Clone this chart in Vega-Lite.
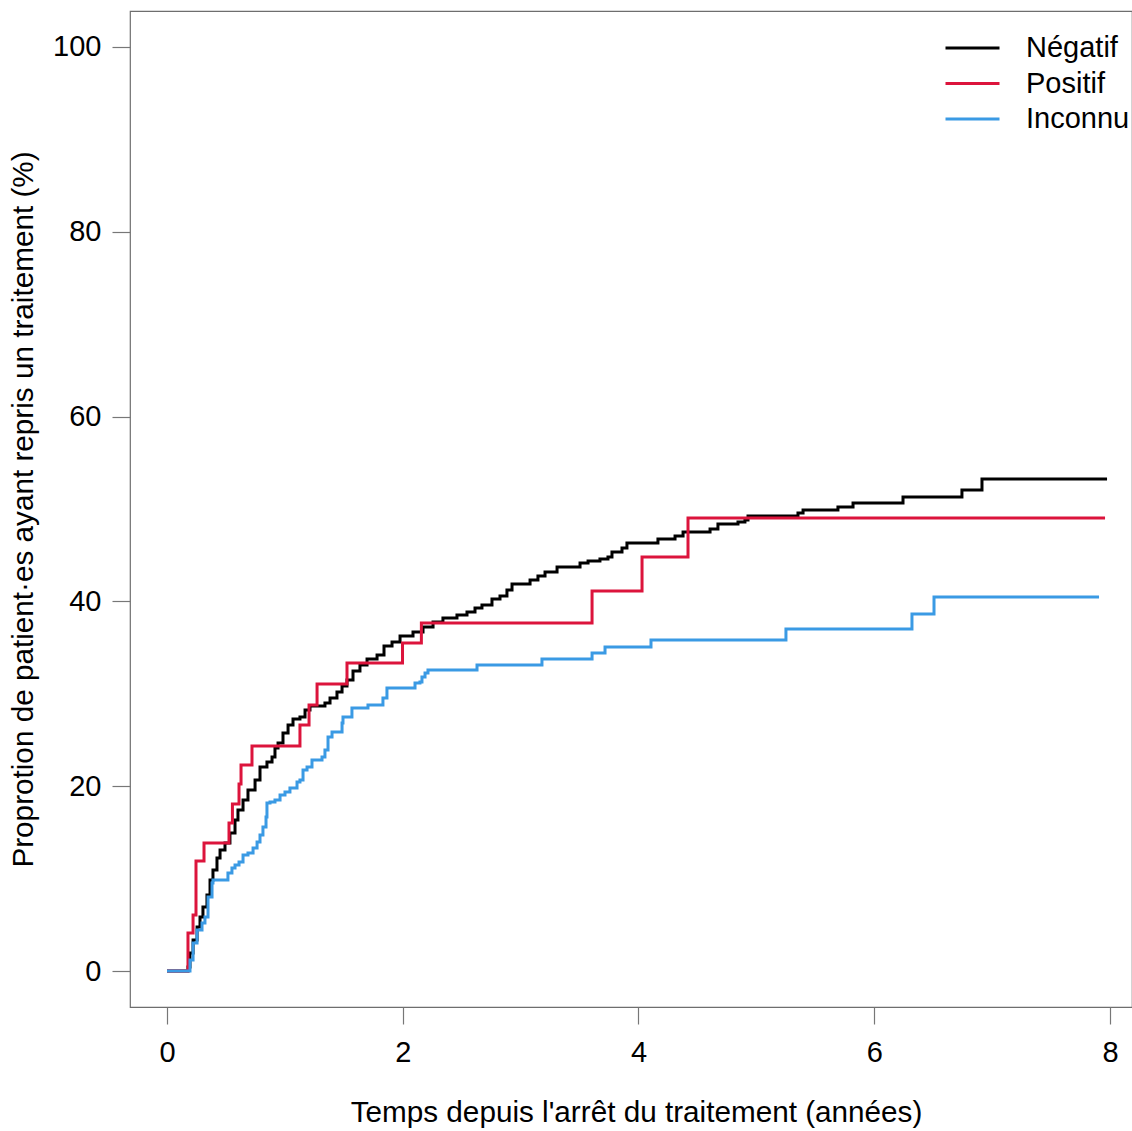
{
  "$schema": "https://vega.github.io/schema/vega-lite/v6.json",
  "autosize": "none",
  "padding": {"left": 130, "top": 11, "right": 0, "bottom": 124},
  "width": 1002,
  "height": 996,
  "background": "white",
  "config": {
    "font": "Liberation Sans",
    "view": {"stroke": "#6e6e6e", "strokeWidth": 1.2},
    "axis": {"grid": false, "domain": false, "tickColor": "#777777", "tickWidth": 1.2, "labelColor": "black", "titleColor": "black", "labelFont": "Liberation Sans", "titleFont": "Liberation Sans", "labelFontSize": 29, "titleFontSize": 29.7, "titleFontWeight": "normal"}
  },
  "data": {"values": [
    {"t": 0, "p": 0, "g": "Négatif"},
    {"t": 0.178, "p": 0.43, "g": "Négatif"},
    {"t": 0.195, "p": 1.95, "g": "Négatif"},
    {"t": 0.221, "p": 3.35, "g": "Négatif"},
    {"t": 0.255, "p": 4.76, "g": "Négatif"},
    {"t": 0.280, "p": 5.84, "g": "Négatif"},
    {"t": 0.305, "p": 6.93, "g": "Négatif"},
    {"t": 0.339, "p": 8.23, "g": "Négatif"},
    {"t": 0.365, "p": 9.85, "g": "Négatif"},
    {"t": 0.390, "p": 10.93, "g": "Négatif"},
    {"t": 0.424, "p": 12.23, "g": "Négatif"},
    {"t": 0.450, "p": 13.10, "g": "Négatif"},
    {"t": 0.492, "p": 13.85, "g": "Négatif"},
    {"t": 0.534, "p": 14.94, "g": "Négatif"},
    {"t": 0.577, "p": 16.34, "g": "Négatif"},
    {"t": 0.602, "p": 17.42, "g": "Négatif"},
    {"t": 0.645, "p": 18.51, "g": "Négatif"},
    {"t": 0.687, "p": 19.59, "g": "Négatif"},
    {"t": 0.747, "p": 20.67, "g": "Négatif"},
    {"t": 0.789, "p": 22.08, "g": "Négatif"},
    {"t": 0.848, "p": 22.62, "g": "Négatif"},
    {"t": 0.891, "p": 23.16, "g": "Négatif"},
    {"t": 0.916, "p": 24.13, "g": "Négatif"},
    {"t": 0.942, "p": 24.68, "g": "Négatif"},
    {"t": 0.984, "p": 25.76, "g": "Négatif"},
    {"t": 1.027, "p": 26.62, "g": "Négatif"},
    {"t": 1.069, "p": 27.27, "g": "Négatif"},
    {"t": 1.128, "p": 27.49, "g": "Négatif"},
    {"t": 1.171, "p": 28.25, "g": "Négatif"},
    {"t": 1.213, "p": 28.68, "g": "Négatif"},
    {"t": 1.340, "p": 29.00, "g": "Négatif"},
    {"t": 1.383, "p": 29.55, "g": "Négatif"},
    {"t": 1.442, "p": 30.19, "g": "Négatif"},
    {"t": 1.485, "p": 30.84, "g": "Négatif"},
    {"t": 1.527, "p": 31.49, "g": "Négatif"},
    {"t": 1.578, "p": 32.47, "g": "Négatif"},
    {"t": 1.637, "p": 33.12, "g": "Négatif"},
    {"t": 1.697, "p": 33.77, "g": "Négatif"},
    {"t": 1.782, "p": 34.20, "g": "Négatif"},
    {"t": 1.841, "p": 35.17, "g": "Négatif"},
    {"t": 1.909, "p": 35.61, "g": "Négatif"},
    {"t": 1.977, "p": 36.26, "g": "Négatif"},
    {"t": 2.087, "p": 36.69, "g": "Négatif"},
    {"t": 2.172, "p": 37.23, "g": "Négatif"},
    {"t": 2.257, "p": 37.77, "g": "Négatif"},
    {"t": 2.341, "p": 38.20, "g": "Négatif"},
    {"t": 2.460, "p": 38.53, "g": "Négatif"},
    {"t": 2.545, "p": 38.85, "g": "Négatif"},
    {"t": 2.613, "p": 39.29, "g": "Négatif"},
    {"t": 2.672, "p": 39.61, "g": "Négatif"},
    {"t": 2.757, "p": 40.26, "g": "Négatif"},
    {"t": 2.825, "p": 40.58, "g": "Négatif"},
    {"t": 2.884, "p": 41.23, "g": "Négatif"},
    {"t": 2.927, "p": 41.88, "g": "Négatif"},
    {"t": 3.080, "p": 42.32, "g": "Négatif"},
    {"t": 3.147, "p": 42.75, "g": "Négatif"},
    {"t": 3.207, "p": 43.18, "g": "Négatif"},
    {"t": 3.309, "p": 43.72, "g": "Négatif"},
    {"t": 3.504, "p": 44.16, "g": "Négatif"},
    {"t": 3.572, "p": 44.37, "g": "Négatif"},
    {"t": 3.673, "p": 44.59, "g": "Négatif"},
    {"t": 3.741, "p": 44.81, "g": "Négatif"},
    {"t": 3.775, "p": 45.35, "g": "Négatif"},
    {"t": 3.860, "p": 45.78, "g": "Négatif"},
    {"t": 3.902, "p": 46.32, "g": "Négatif"},
    {"t": 4.165, "p": 46.75, "g": "Négatif"},
    {"t": 4.310, "p": 47.08, "g": "Négatif"},
    {"t": 4.378, "p": 47.51, "g": "Négatif"},
    {"t": 4.607, "p": 47.84, "g": "Négatif"},
    {"t": 4.674, "p": 48.38, "g": "Négatif"},
    {"t": 4.844, "p": 48.59, "g": "Négatif"},
    {"t": 4.903, "p": 48.81, "g": "Négatif"},
    {"t": 4.929, "p": 49.24, "g": "Négatif"},
    {"t": 5.353, "p": 49.57, "g": "Négatif"},
    {"t": 5.396, "p": 49.89, "g": "Négatif"},
    {"t": 5.692, "p": 50.22, "g": "Négatif"},
    {"t": 5.820, "p": 50.65, "g": "Négatif"},
    {"t": 6.244, "p": 51.30, "g": "Négatif"},
    {"t": 6.744, "p": 52.06, "g": "Négatif"},
    {"t": 6.914, "p": 53.25, "g": "Négatif"},
    {"t": 7.975, "p": 53.25, "g": "Négatif"},
    {"t": 0, "p": 0, "g": "Positif"},
    {"t": 0.178, "p": 4.11, "g": "Positif"},
    {"t": 0.221, "p": 6.06, "g": "Positif"},
    {"t": 0.246, "p": 11.90, "g": "Positif"},
    {"t": 0.314, "p": 13.85, "g": "Positif"},
    {"t": 0.526, "p": 16.02, "g": "Positif"},
    {"t": 0.555, "p": 18.07, "g": "Positif"},
    {"t": 0.611, "p": 20.24, "g": "Positif"},
    {"t": 0.628, "p": 22.29, "g": "Positif"},
    {"t": 0.721, "p": 24.35, "g": "Positif"},
    {"t": 1.128, "p": 26.62, "g": "Positif"},
    {"t": 1.205, "p": 28.79, "g": "Positif"},
    {"t": 1.273, "p": 31.06, "g": "Positif"},
    {"t": 1.527, "p": 33.33, "g": "Positif"},
    {"t": 1.998, "p": 35.50, "g": "Positif"},
    {"t": 2.158, "p": 37.66, "g": "Positif"},
    {"t": 3.606, "p": 41.13, "g": "Positif"},
    {"t": 4.030, "p": 44.81, "g": "Positif"},
    {"t": 4.420, "p": 49.03, "g": "Positif"},
    {"t": 7.958, "p": 49.03, "g": "Positif"},
    {"t": 0, "p": 0, "g": "Inconnu"},
    {"t": 0.195, "p": 1.19, "g": "Inconnu"},
    {"t": 0.221, "p": 3.03, "g": "Inconnu"},
    {"t": 0.255, "p": 4.44, "g": "Inconnu"},
    {"t": 0.297, "p": 5.19, "g": "Inconnu"},
    {"t": 0.322, "p": 5.84, "g": "Inconnu"},
    {"t": 0.348, "p": 8.01, "g": "Inconnu"},
    {"t": 0.382, "p": 9.52, "g": "Inconnu"},
    {"t": 0.390, "p": 9.85, "g": "Inconnu"},
    {"t": 0.517, "p": 10.61, "g": "Inconnu"},
    {"t": 0.551, "p": 11.15, "g": "Inconnu"},
    {"t": 0.577, "p": 11.47, "g": "Inconnu"},
    {"t": 0.611, "p": 11.80, "g": "Inconnu"},
    {"t": 0.645, "p": 12.55, "g": "Inconnu"},
    {"t": 0.687, "p": 12.77, "g": "Inconnu"},
    {"t": 0.730, "p": 13.31, "g": "Inconnu"},
    {"t": 0.764, "p": 13.96, "g": "Inconnu"},
    {"t": 0.789, "p": 14.72, "g": "Inconnu"},
    {"t": 0.814, "p": 15.58, "g": "Inconnu"},
    {"t": 0.840, "p": 16.67, "g": "Inconnu"},
    {"t": 0.848, "p": 18.18, "g": "Inconnu"},
    {"t": 0.874, "p": 18.29, "g": "Inconnu"},
    {"t": 0.916, "p": 18.51, "g": "Inconnu"},
    {"t": 0.959, "p": 19.05, "g": "Inconnu"},
    {"t": 1.001, "p": 19.37, "g": "Inconnu"},
    {"t": 1.043, "p": 19.81, "g": "Inconnu"},
    {"t": 1.103, "p": 20.45, "g": "Inconnu"},
    {"t": 1.128, "p": 20.67, "g": "Inconnu"},
    {"t": 1.154, "p": 21.75, "g": "Inconnu"},
    {"t": 1.188, "p": 22.08, "g": "Inconnu"},
    {"t": 1.230, "p": 22.84, "g": "Inconnu"},
    {"t": 1.315, "p": 23.16, "g": "Inconnu"},
    {"t": 1.340, "p": 23.92, "g": "Inconnu"},
    {"t": 1.366, "p": 25.32, "g": "Inconnu"},
    {"t": 1.400, "p": 25.87, "g": "Inconnu"},
    {"t": 1.485, "p": 26.84, "g": "Inconnu"},
    {"t": 1.493, "p": 27.49, "g": "Inconnu"},
    {"t": 1.569, "p": 28.46, "g": "Inconnu"},
    {"t": 1.705, "p": 28.79, "g": "Inconnu"},
    {"t": 1.832, "p": 29.55, "g": "Inconnu"},
    {"t": 1.866, "p": 30.63, "g": "Inconnu"},
    {"t": 2.104, "p": 31.17, "g": "Inconnu"},
    {"t": 2.146, "p": 31.28, "g": "Inconnu"},
    {"t": 2.163, "p": 31.82, "g": "Inconnu"},
    {"t": 2.189, "p": 32.25, "g": "Inconnu"},
    {"t": 2.214, "p": 32.58, "g": "Inconnu"},
    {"t": 2.630, "p": 33.12, "g": "Inconnu"},
    {"t": 3.181, "p": 33.77, "g": "Inconnu"},
    {"t": 3.606, "p": 34.42, "g": "Inconnu"},
    {"t": 3.716, "p": 35.06, "g": "Inconnu"},
    {"t": 4.106, "p": 35.82, "g": "Inconnu"},
    {"t": 5.251, "p": 37.01, "g": "Inconnu"},
    {"t": 6.320, "p": 38.64, "g": "Inconnu"},
    {"t": 6.507, "p": 40.48, "g": "Inconnu"},
    {"t": 7.907, "p": 40.48, "g": "Inconnu"}
  ]},
  "mark": {"type": "line", "interpolate": "step-after", "strokeWidth": 3, "clip": true},
  "encoding": {
    "x": {"field": "t", "type": "quantitative",
      "scale": {"domain": [-0.3139, 8.1867], "nice": false, "zero": false},
      "axis": {"values": [0, 2, 4, 6, 8], "tickSize": 17, "labelPadding": 14, "title": "Temps depuis l'arrêt du traitement (années)", "titlePadding": 31, "titleX": 506, "labelFlush": false}},
    "y": {"field": "p", "type": "quantitative",
      "scale": {"domain": [-3.896, 103.896], "nice": false, "zero": false},
      "axis": {"values": [0, 20, 40, 60, 80, 100], "tickSize": 18, "labelPadding": 11, "title": "Proprotion de patient·es ayant repris un traitement (%)", "titlePadding": 14, "labelFlush": false}},
    "color": {"field": "g", "type": "nominal",
      "scale": {"domain": ["Négatif", "Positif", "Inconnu"], "range": ["#000000", "#DC143C", "#3A9AE4"]},
      "legend": {"orient": "none", "legendX": 827.5, "legendY": 22, "title": null, "symbolType": "M-2,0H2", "symbolSize": 729, "symbolStrokeWidth": 3, "symbolFillColor": "transparent", "labelFontSize": 29, "labelFont": "Liberation Sans", "labelColor": "black", "labelOffset": 38.5, "rowPadding": 5.5, "padding": 0, "labelLimit": 300}},
    "order": {"field": "t", "type": "quantitative"}
  }
}
